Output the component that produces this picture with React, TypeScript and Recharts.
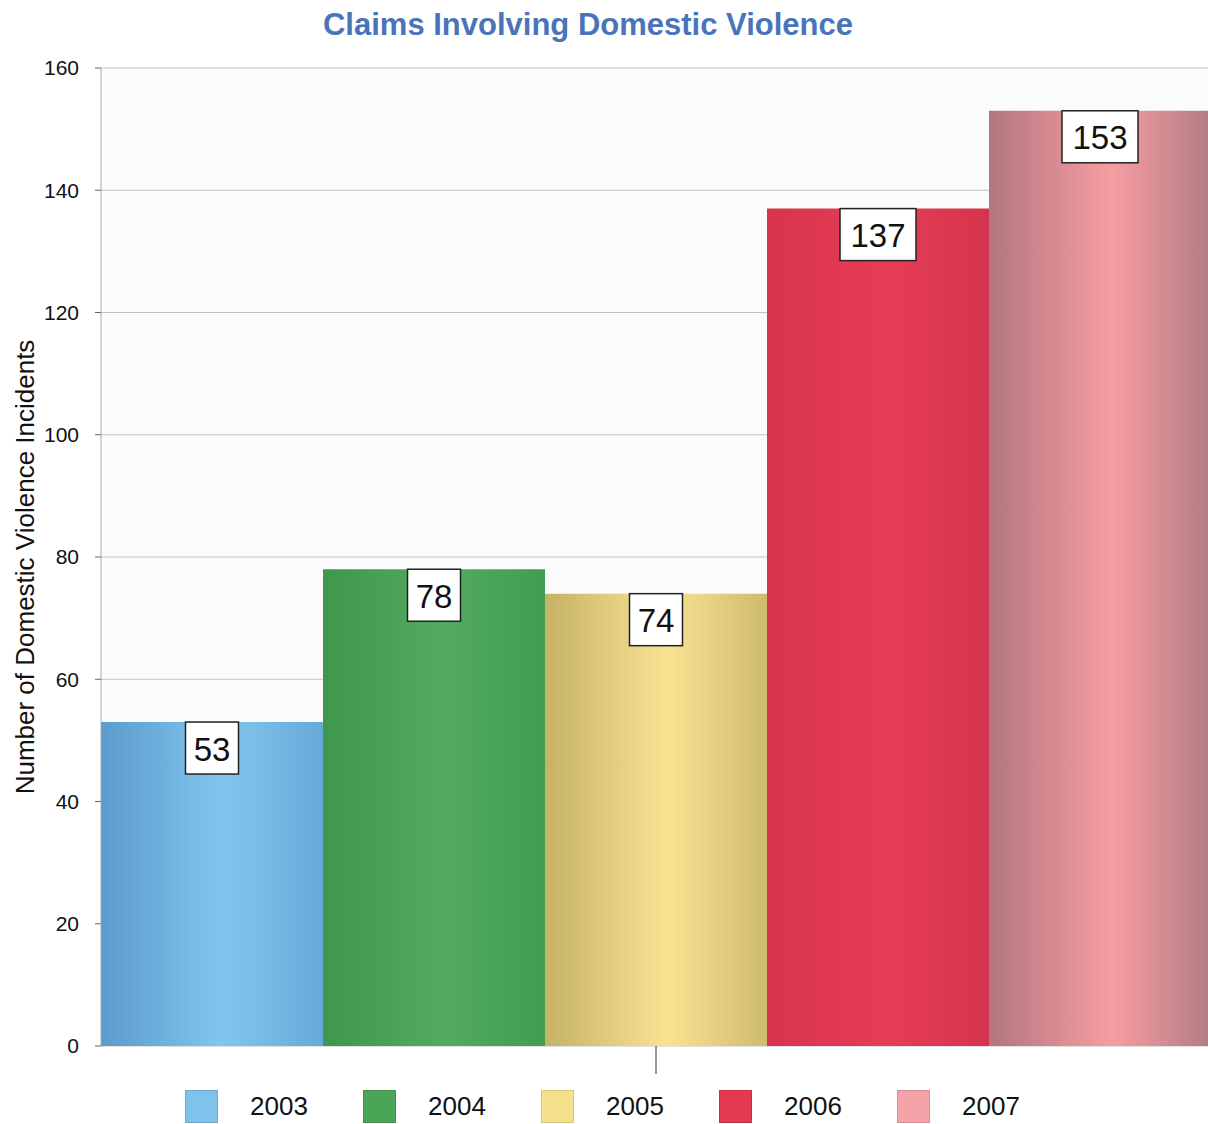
import { Bar, BarChart, CartesianGrid, LabelList, Legend, XAxis, YAxis } from "recharts";

const YEARS = ["2003", "2004", "2005", "2006", "2007"];
const COUNTS = [53, 78, 74, 137, 153];
const Y_TICKS = [0, 20, 40, 60, 80, 100, 120, 140, 160];

// shading for the cylinder look: edge, middle, edge
const SHADES = [
  ["#5b9bcc", "#82c6ee", "#67a9d8"],
  ["#3e974d", "#52ab5e", "#429d52"],
  ["#c6b266", "#f8e393", "#cfbb6c"],
  ["#d8334d", "#e73d56", "#d5334d"],
  ["#b2767e", "#f69ea2", "#b47c85"],
];
const SWATCH = ["#7fc3ec", "#4aa557", "#f7e08c", "#e33a52", "#f5a3a8"];

const row: Record<string, string | number> = { name: "Claims" };
YEARS.forEach((y, i) => {
  row[y] = COUNTS[i];
});
const DATA = [row];

const font = "Arial, 'Liberation Sans', sans-serif";

function ValueBox(props: any) {
  const { x, y, width, value } = props;
  const text = String(value);
  const w = text.length > 2 ? 76 : 53;
  const h = 52;
  const cx = x + width / 2;
  return (
    <g>
      <rect x={cx - w / 2} y={y} width={w} height={h} fill="#fff" stroke="#222" strokeWidth={1.5} />
      <text x={cx} y={y + h / 2 + 1} textAnchor="middle" dominantBaseline="central" fontSize={33} fontFamily={font} fill="#111">
        {text}
      </text>
    </g>
  );
}

function YTitle(props: any) {
  const { viewBox } = props;
  const cx = viewBox.x + 25;
  const cy = viewBox.y + viewBox.height / 2 + 10;
  return (
    <text x={cx} y={cy} transform={`rotate(-90 ${cx} ${cy})`} textAnchor="middle" dominantBaseline="central" fontSize={26} fontFamily={font} fill="#111">
      Number of Domestic Violence Incidents
    </text>
  );
}

function YearLegend() {
  return (
    <div style={{ display: "flex", paddingLeft: 185, paddingTop: 12, height: 36, fontFamily: font }}>
      {YEARS.map((y, i) => (
        <div key={y} style={{ display: "flex", alignItems: "center", width: 178 }}>
          <span style={{ width: 33, height: 33, background: SWATCH[i], boxShadow: "inset 0 0 0 1px rgba(0,0,0,0.12)" }} />
          <span style={{ marginLeft: 32, fontSize: 26, color: "#111" }}>{y}</span>
        </div>
      ))}
    </div>
  );
}

export default function App() {
  return (
    <div style={{ position: "absolute", left: 0, top: 0, width: 1208, height: 1124, overflow: "hidden", background: "#fff" }}>
      <div style={{ position: "absolute", top: 7, left: 0, width: 1176, textAlign: "center", fontFamily: font, fontWeight: 700, fontSize: 31, color: "#4a74b9" }}>
        Claims Involving Domestic Violence
      </div>
      <BarChart width={1212} height={1124} data={DATA} margin={{ top: 68, right: 1, bottom: 0, left: 0 }} barCategoryGap={0} barGap={0}>
        <defs>
          {SHADES.map((s, i) => (
            <linearGradient key={i} id={`cyl${i}`} x1="0" y1="0" x2="1" y2="0">
              <stop offset="0%" stopColor={s[0]} />
              <stop offset="55%" stopColor={s[1]} />
              <stop offset="100%" stopColor={s[2]} />
            </linearGradient>
          ))}
        </defs>
        <CartesianGrid vertical={false} stroke="#c2c2c2" fill="#fbfbfb" />
        <XAxis dataKey="name" height={30} axisLine={false} tickSize={28} tickLine={{ stroke: "#333" }} tickFormatter={() => ""} />
        <YAxis
          width={101}
          domain={[0, 160]}
          ticks={Y_TICKS}
          axisLine={{ stroke: "#aaa" }}
          tickLine={{ stroke: "#666" }}
          tickSize={6}
          tickMargin={16}
          tick={{ fill: "#111", fontSize: 21, fontFamily: font }}
          label={<YTitle />}
        />
        <Legend verticalAlign="bottom" height={48} content={<YearLegend />} wrapperStyle={{ left: 0, width: 1208 }} />
        {YEARS.map((y, i) => (
          <Bar key={y} dataKey={y} fill={`url(#cyl${i})`} isAnimationActive={false}>
            <LabelList dataKey={y} content={<ValueBox />} />
          </Bar>
        ))}
      </BarChart>
    </div>
  );
}
